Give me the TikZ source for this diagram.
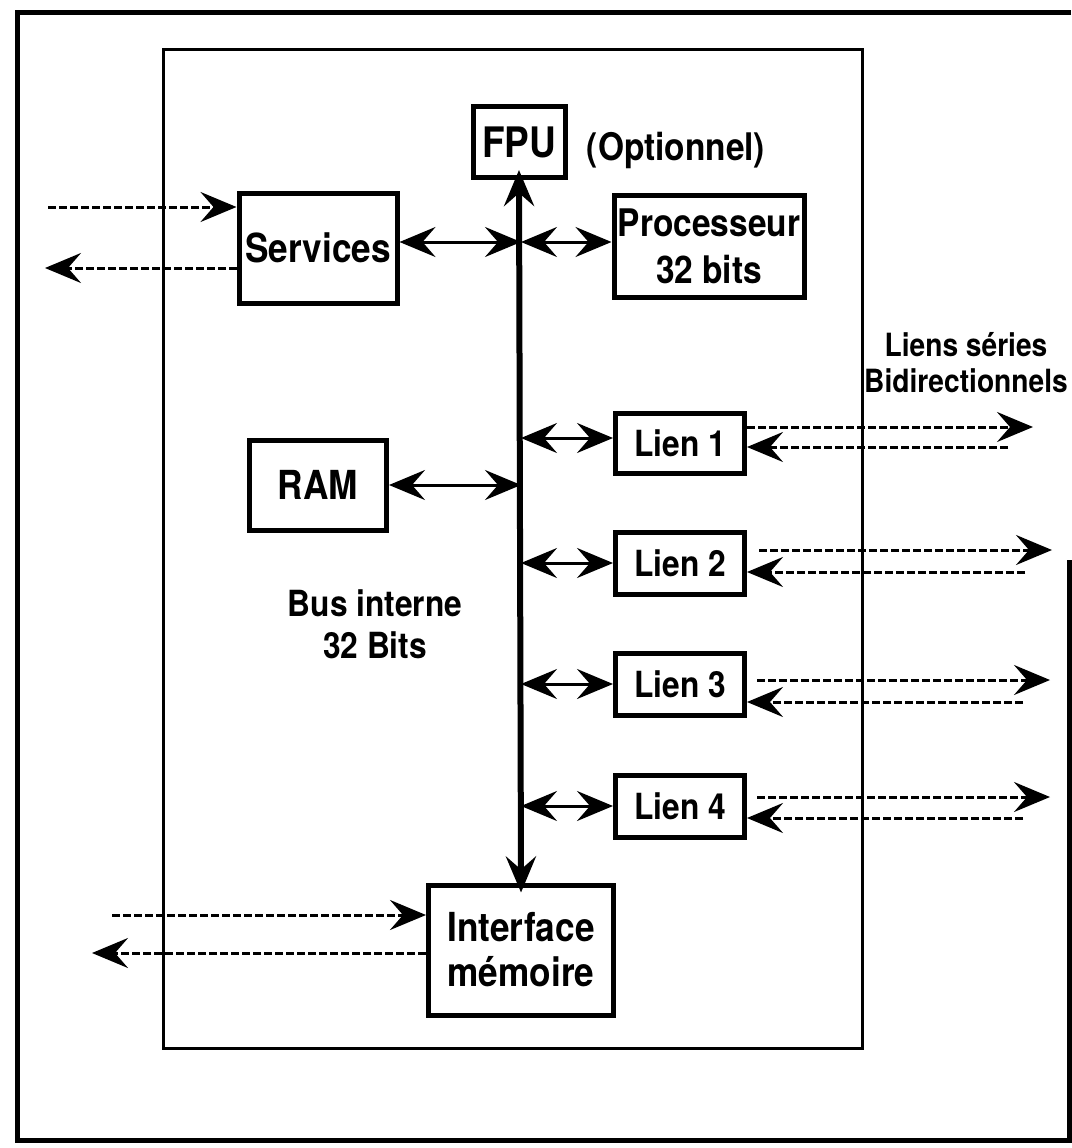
\documentclass[tikz,border=0pt]{standalone}
\usepackage{fontspec}
\setmainfont{TeX Gyre Heros}[FakeStretch=0.88]
\usetikzlibrary{arrows.meta}
\begin{document}
\begin{tikzpicture}[x=1pt, y=-1pt, font=\bfseries,
          bloc/.style={draw, line width=5pt, inner sep=0pt, align=center},
          lien/.style={bloc, minimum width=129pt, minimum height=62pt, font=\bfseries\fontsize{36}{40}\selectfont},
          dbl/.style={line width=3pt, {Stealth[length=36pt, width=30pt, inset=13pt]}-{Stealth[length=36pt, width=30pt, inset=13pt]}},
          ext/.style={line width=3pt, dash pattern=on 8pt off 3pt, -{Stealth[length=36pt, width=30pt, inset=13pt]}}]
        \useasboundingbox (0,0) rectangle (1071,1148);
        \draw[line width=5pt] (1071,13) -- (17,13) -- (17,1140) -- (1069,1140) -- (1069,560);
        \draw[line width=3pt] (163,50) rectangle (862,1048);
        \node[bloc, minimum width=158pt, minimum height=110pt, font=\bfseries\fontsize{40}{44}\selectfont] (srv) at (318,248) {Services};
        \node[bloc, minimum width=92pt, minimum height=71pt, font=\bfseries\fontsize{42}{44}\selectfont] (fpu) at (519,142) {FPU};
        \node[font=\bfseries\fontsize{38}{40}\selectfont] (opt) at (676,150) {(Optionnel)};
        \node[bloc, minimum width=190pt, minimum height=102pt, font=\bfseries\fontsize{38}{47}\selectfont] (cpu) at (709,246) {Processeur\\32 bits};
        \node[bloc, minimum width=137pt, minimum height=90pt, font=\bfseries\fontsize{40}{44}\selectfont] (ram) at (318,485) {RAM};
        \node[lien, minimum height=60pt] (l1) at (680,443) {Lien 1};
        \node[lien] (l2) at (680,563) {Lien 2};
        \node[lien] (l3) at (680,684) {Lien 3};
        \node[lien] (l4) at (680,806) {Lien 4};
        \node[bloc, minimum width=185pt, minimum height=130pt, font=\bfseries\fontsize{40}{45}\selectfont] (mem) at (521,950) {Interface\\m\'emoire};
        \node[font=\bfseries\fontsize{32}{36}\selectfont, align=center] (liens) at (966,363) {Liens s\'eries\\Bidirectionnels};
        \node[font=\bfseries\fontsize{36}{42}\selectfont, align=center] (bus) at (375,624) {Bus interne\\32 Bits};
        % bus interne
        \draw[line width=6pt, shorten <=-10pt, shorten >=-10pt, {Stealth[length=36pt, width=30pt, inset=13pt]}-{Stealth[length=36pt, width=30pt, inset=13pt]}] (fpu.south) -- (mem.north);
        \coordinate (bsrv) at (521,242);
        \draw[dbl] (srv.east |- bsrv) -- (bsrv);
        \draw[dbl] (bsrv) -- (cpu.west |- bsrv);
        \draw[dbl] (ram.east) -- (ram.east -| bsrv);
        \coordinate (bl1) at (521,438);
        \draw[dbl] (bl1) -- (l1.west |- bl1);
        \draw[dbl] (l2.west -| bsrv) -- (l2.west);
        \draw[dbl] (l3.west -| bsrv) -- (l3.west);
        \draw[dbl] (l4.west -| bsrv) -- (l4.west);
        % liens externes
        \coordinate (srvin) at (48,207);
        \coordinate (srvout) at (45,268);
        \draw[ext] (srvin) -- (srv.west |- srvin);
        \draw[ext] (srv.west |- srvout) -- (srvout);
        \coordinate (memin) at (112,915);
        \coordinate (memout) at (92,953);
        \draw[ext] (memin) -- (mem.west |- memin);
        \draw[ext] (mem.west |- memout) -- (memout);
        \coordinate (l1out) at (1033,427);
        \coordinate (l1in) at (1008,447);
        \draw[ext] (l1.east |- l1out) -- (l1out);
        \draw[ext] (l1in) -- (l1.east |- l1in);
        \coordinate (l2out) at (1052,550);
        \coordinate (l2in) at (1025,572);
        \draw[ext, shorten <=12pt] (l2.east |- l2out) -- (l2out);
        \draw[ext] (l2in) -- (l2.east |- l2in);
        \coordinate (l3out) at (1050,680);
        \coordinate (l3in) at (1023,702);
        \draw[ext, shorten <=10pt] (l3.east |- l3out) -- (l3out);
        \draw[ext] (l3in) -- (l3.east |- l3in);
        \coordinate (l4out) at (1050,797);
        \coordinate (l4in) at (1023,818);
        \draw[ext, shorten <=10pt] (l4.east |- l4out) -- (l4out);
        \draw[ext] (l4in) -- (l4.east |- l4in);
      \end{tikzpicture}
\end{document}
